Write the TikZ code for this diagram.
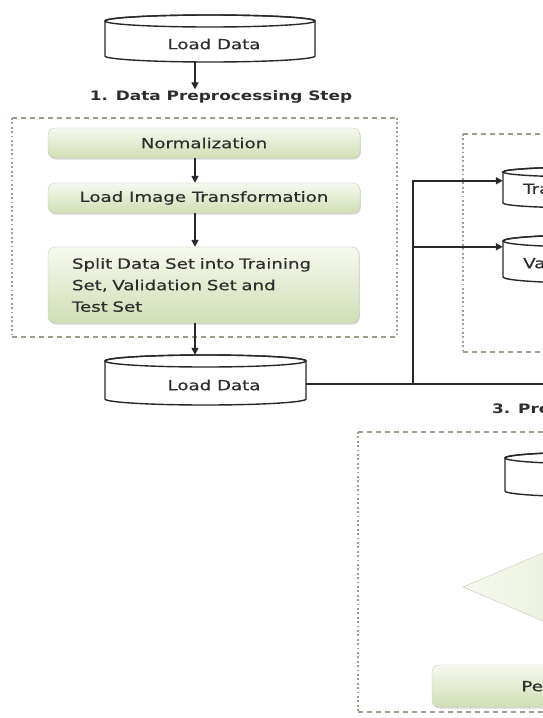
\documentclass[tikz,border=0pt]{standalone}
\usepackage{fontspec}
\setmainfont{DejaVu Sans}[FakeStretch=1.3, UprightFeatures={FakeBold=0.4}]
\usetikzlibrary{arrows.meta,shadows,calc,fit,shapes.geometric}
\definecolor{ln}{RGB}{40,40,40}
\definecolor{dashc}{RGB}{158,158,138}
\definecolor{gtop}{RGB}{246,249,239}
\definecolor{gbot}{RGB}{208,222,180}
\definecolor{gbd}{RGB}{196,204,180}
\definecolor{txt}{RGB}{45,45,45}
\newcommand\dbdraw[5]{%
  \filldraw[cyl] (#1,#2+#5) -- (#1,#4-#5)
    arc[start angle=180,end angle=0,x radius={(#3-#1)/2},y radius=#5]
    -- (#3,#2+#5)
    arc[start angle=0,end angle=-180,x radius={(#3-#1)/2},y radius=#5] -- cycle;
  \draw[cyl,fill=none] ({(#1+#3)/2},#2+#5) ellipse[x radius={(#3-#1)/2},y radius=#5];
}
\begin{document}
\begin{tikzpicture}[x=1pt,y=-1pt,
  cyl/.style={draw=ln, line width=1.4pt, fill=white},
  lbl/.style={inner sep=0pt, text=txt, font=\fontsize{14}{16}\selectfont},
  head/.style={inner sep=1pt, text=txt, font=\fontsize{13}{15}\selectfont\bfseries},
  gbox/.style={rectangle, rounded corners=7pt, draw=gbd, top color=gtop, bottom color=gbot,
    drop shadow={shadow xshift=0.8pt, shadow yshift=-1.5pt, opacity=0.3, fill=black!50},
    inner sep=0pt, text=txt, font=\fontsize{14}{21.5}\selectfont},
  dashh/.style={draw=dashc, line width=1.2pt, dash pattern=on 5pt off 4pt},
  dashv/.style={draw=dashc, line width=1.2pt, dash pattern=on 1.8pt off 2.6pt},
  arr/.style={draw=ln, line width=1.5pt, -{Triangle[length=7pt,width=7pt]}},
  conn/.style={draw=ln, line width=1.5pt},
  diam/.style={diamond, inner sep=0pt, draw=gbd, left color=gtop, right color=gbot}]
\useasboundingbox (0,0) rectangle (543,718);
\clip (0,0) rectangle (543,718);
\fill[white] (0,0) rectangle (543,718);

% dashed group frames
\draw[dashh] (12,118) -- (397,118) (12,337) -- (397,337);
\draw[dashv] (12,118) -- (12,337) (397,118) -- (397,337);
\draw[dashh] (463,134) -- (620,134) (463,352) -- (620,352);
\draw[dashv] (463,134) -- (463,352);
\draw[dashh] (358,432) -- (620,432) (358,712) -- (620,712);
\draw[dashv] (358,432) -- (358,712);

\coordinate (ax) at (195,0);
\coordinate (jx) at (413,0);

% top load data
\dbdraw{105}{15}{315}{62}{6}
\node[fit={(105,15) (315,62)}, inner sep=0pt] (ld1) {};
\node[lbl] (ld1t) at (214,44) {Load Data};

\node[head] (h1) at (221,97) {1. Data Preprocessing Step};

\node[gbox, minimum width=312, minimum height=30] (norm) at (204,143) {Normalization};
\node[gbox, minimum width=312, minimum height=30] (lit) at (204,198) {Load Image Transformation};
\node[gbox, minimum width=311, minimum height=76, text width=263, inner xsep=24pt, align=left] (split) at (203.5,285)
  {Split Data Set into Training\\Set, Validation Set and\\Test Set};

% bottom load data
\dbdraw{105}{355}{306}{405}{6}
\node[fit={(105,355) (306,405)}, inner sep=0pt] (ld2) {};
\node[lbl] (ld2t) at (214,385) {Load Data};

% training / validation
\dbdraw{503}{167}{680}{208}{5}
\node[fit={(503,167) (680,208)}, inner sep=0pt] (train) {};
\node[lbl, anchor=west] (traint) at (523,190) {Training Set};
\dbdraw{503}{235}{680}{283}{6}
\node[fit={(503,235) (680,283)}, inner sep=0pt] (val) {};
\node[lbl, anchor=west] (valt) at (523,263) {Validation Set};

% section 3
\node[head, anchor=west] (h3) at (491,410) {3. Prediction Step};
\dbdraw{505}{452}{700}{497}{6}
\node[fit={(505,452) (700,497)}, inner sep=0pt] (test) {};
\node[diam, minimum width=314, minimum height=134] (dec) at (620,587) {};
\node[gbox, minimum width=396, minimum height=42] (perf) at (630,686) {Performance Evaluation};

% connectors
\draw[arr] (ld1.south -| ax) -- (h1.north -| ax);
\draw[arr] (norm.south -| ax) -- (lit.north -| ax);
\draw[arr] (lit.south -| ax) -- (split.north -| ax);
\draw[arr] (split.south -| ax) -- (ld2.north -| ax);

\coordinate (offR) at (560,384);
\coordinate (tin) at ($(train.north west)+(0,14)$);
\coordinate (vin) at ($(val.north west)+(0,12)$);
\draw[conn] (ld2.east |- offR) -- (offR);
\draw[arr] (jx |- offR) |- (tin);
\draw[arr] (jx |- vin) -- (vin);
\end{tikzpicture}
\end{document}
